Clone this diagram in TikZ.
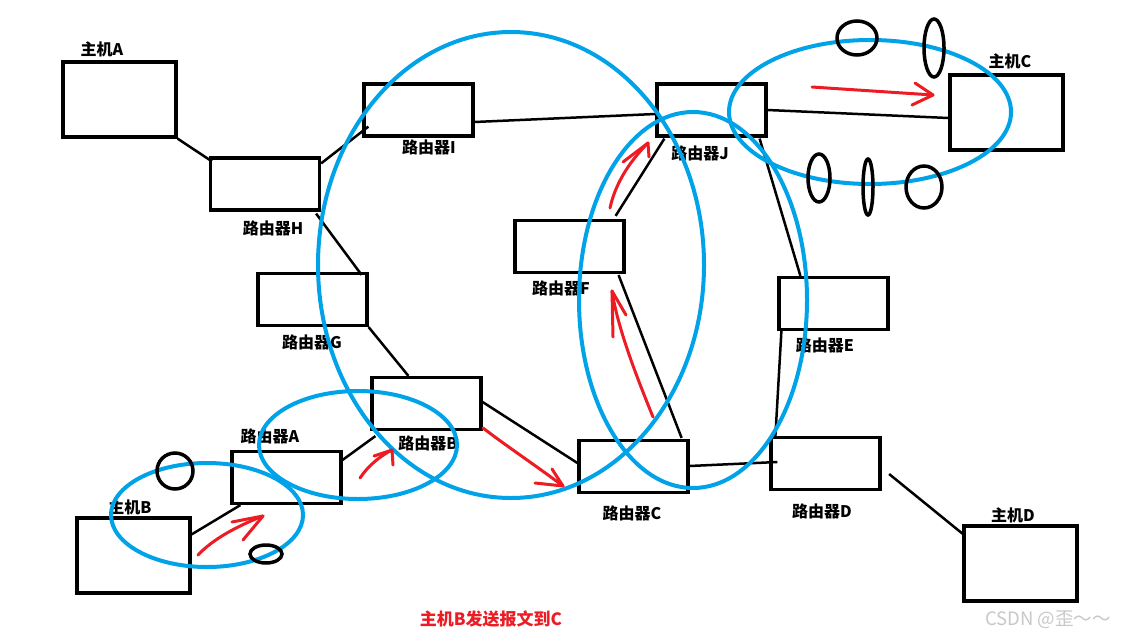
\documentclass[tikz,border=0pt]{standalone}
\usepackage{fontspec}
\newfontfamily\cjk{Noto Sans CJK SC}
\usetikzlibrary{calc}
\definecolor{paintblue}{RGB}{0,162,232}
\definecolor{paintred}{RGB}{237,28,36}
\definecolor{wmgray}{RGB}{200,200,200}
\tikzset{
  box/.style={draw, line width=3.2pt, inner sep=0pt, minimum width=109pt, minimum height=52pt},
  hostbox/.style={box, minimum width=113pt, minimum height=75pt},
  link/.style={line width=2.5pt},
  lbl/.style={font=\cjk\bfseries\fontsize{16}{18}\selectfont, inner sep=0pt},
  ring/.style={draw=paintblue, line width=4pt},
  blackring/.style={draw=black, line width=3.5pt},
  flow/.style={draw=paintred, line width=3pt, line cap=round, line join=round}
}
\begin{document}
\begin{tikzpicture}[x=1pt,y=-1pt]
\useasboundingbox[fill=white] (0,0) rectangle (1121,640);
% boxes
\node[hostbox] (hA) at (119.5,99.5) {};
\node[box] (rH) at (265,184) {};
\node[box] (rI) at (418.5,110) {};
\node[box] (rG) at (312.5,299.5) {};
\node[box] (rF) at (569.5,246.5) {};
\node[box] (rJ) at (711.5,110) {};
\node[hostbox] (hC) at (1006.5,112.5) {};
\node[box] (rE) at (833.5,303.5) {};
\node[box] (rB) at (426.5,403.5) {};
\node[box] (rA) at (286.5,477.5) {};
\node[hostbox] (hB) at (133.5,555.5) {};
\node[box] (rC) at (633.5,466.5) {};
\node[box] (rD) at (825.5,463.5) {};
\node[hostbox] (hD) at (1020.5,563.5) {};
% links
\draw[link] (hA.south east) -- ($(rH.north west)+(3,5)$);
\draw[link] ($(rH.north east)+(0,7)$) -- ($(rI.south west)+(6,-11)$);
\draw[link] ($(rH.south east)+(-5,2)$) -- ($(rG.north east)+(-7,3)$);
\draw[link] ($(rI.east)+(0,12)$) -- ($(rJ.west)+(0,4)$);
\draw[link] (rJ.east) -- ($(hC.west)+(0,5.5)$);
\draw[link] ($(rJ.south west)+(9,1)$) -- ($(rF.north east)+(-10,-3)$);
\draw[link] ($(rJ.south east)+(-8,1)$) -- ($(rE.north west)+(23,0)$);
\draw[link] ($(rF.south east)+(-7,1)$) -- ($(rC.north east)+(-8,-1)$);
\draw[link] ($(rE.south west)+(4,0)$) -- ($(rD.north west)+(6,0)$);
\draw[link] ($(rC.east)+(0,-0.5)$) -- ($(rD.west)+(8,-1.5)$);
\draw[link] ($(rD.east)+(7.5,10.5)$) -- ($(hD.north west)+(1,10)$);
\draw[link] (rG.south east) -- ($(rB.north west)+(38,0)$);
\draw[link] ($(rB.east)+(0,-1.5)$) -- ($(rC.west)+(0,-3.5)$);
\draw[link] ($(rA.north east)+(0,10)$) -- ($(rB.south west)+(5,5)$);
\draw[link] ($(hB.north east)+(0,18)$) -- ($(rA.south west)+(10,0)$);
% labels
\node[lbl] (tA) at (102,49) {主机A};
\node[lbl] (tH) at (273,228) {路由器H};
\node[lbl] (tI) at (429,147) {路由器I};
\node[lbl] (tG) at (312,342) {路由器G};
\node[lbl] (tJ) at (700,153) {路由器J};
\node[lbl] (tC) at (1010,61) {主机C};
\node[lbl] (tF) at (561,288) {路由器F};
\node[lbl] (tE) at (825,345) {路由器E};
\node[lbl] (tRC) at (632,513) {路由器C};
\node[lbl] (tRD) at (822,511) {路由器D};
\node[lbl] (tD) at (1013,515) {主机D};
\node[lbl] (tRA) at (270,436) {路由器A};
\node[lbl] (tRB) at (428,443) {路由器B};
\node[lbl] (tB) at (130,507) {主机B};
% blue ellipses
\draw[ring] (511,265) ellipse [x radius=193pt, y radius=233pt];
\draw[ring] (693,300) ellipse [x radius=114pt, y radius=188pt];
\draw[ring] (870,112) ellipse [x radius=141pt, y radius=72pt];
\draw[ring] (358,445) ellipse [x radius=99pt, y radius=54pt];
\draw[ring] (207,515) ellipse [x radius=96pt, y radius=52pt];
% red arrows
\draw[flow] (198,555) .. controls (212,540) and (235,527) .. (263,516);
\draw[flow] (232,522) -- (263,516) -- (243,540);
\draw[flow] (360,478) .. controls (368,466) and (380,456) .. (392,450);
\draw[flow] (374,456) -- (392,450) -- (393,465);
\draw[flow] (483,428) .. controls (505,445) and (535,465) .. (563,486);
\draw[flow] (552,469) -- (563,486) -- (535,483);
\draw[flow] (653,417) .. controls (638,380) and (618,330) .. (612,291);
\draw[flow] (613,337) -- (612,291) -- (626,315);
\draw[flow] (610,208) .. controls (615,185) and (628,163) .. (648,143);
\draw[flow] (623,162) -- (648,143) -- (649,157);
\draw[flow] (812,87) -- (933,95);
\draw[flow] (915,83) -- (933,95) -- (912,105);
% black rings
\draw[blackring] (175,471) ellipse [x radius=18pt, y radius=18pt];
\draw[blackring] (266,554) ellipse [x radius=16pt, y radius=9pt];
\draw[blackring] (857,38) ellipse [x radius=20pt, y radius=17pt];
\draw[blackring] (934,48) ellipse [x radius=10pt, y radius=29pt];
\draw[blackring] (819,178) ellipse [x radius=11pt, y radius=24pt];
\draw[blackring] (868,187) ellipse [x radius=5pt, y radius=28pt];
\draw[blackring] (924,187) ellipse [x radius=18pt, y radius=21pt];
% captions
\node[lbl, font=\cjk\bfseries\fontsize{17}{19}\selectfont, text=paintred] (cap) at (491,619) {主机B发送报文到C};
\node[font=\cjk\fontsize{18.5}{20}\selectfont, text=wmgray, inner sep=0pt] (wm) at (1048,620) {CSDN @歪～～};
\end{tikzpicture}
\end{document}
